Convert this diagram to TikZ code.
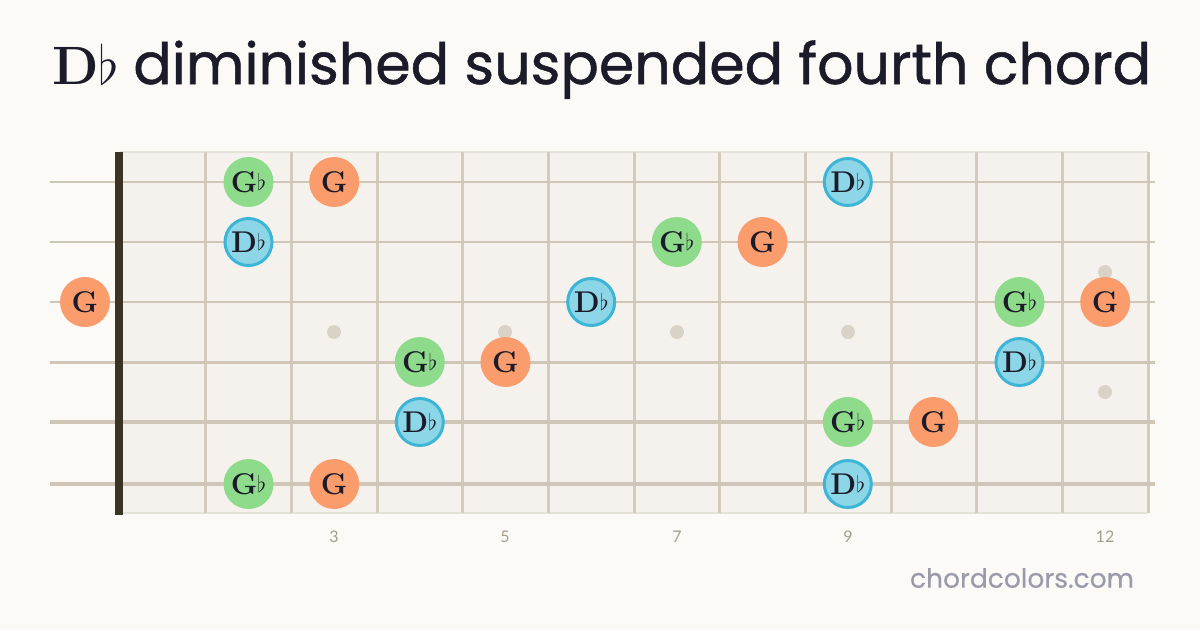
\RequirePackage{fix-cm}
\documentclass[tikz,border=0pt]{standalone}
\usepackage{fontspec}
\setsansfont{Lato}
\newfontfamily\titlefont{Poppins}[FakeBold=0.9]
\newfontfamily\sitefont{Poppins}[FakeBold=0.4]
\definecolor{bg}{HTML}{FBFAF7}
\definecolor{board}{HTML}{F5F2EE}
\definecolor{fretc}{HTML}{D3CBBE}
\definecolor{stringc}{HTML}{CFC6B8}
\definecolor{nutc}{HTML}{3A3424}
\definecolor{dotc}{HTML}{D9D3C7}
\definecolor{numc}{HTML}{A59D8E}
\definecolor{ink}{HTML}{1C1B2A}
\definecolor{webc}{HTML}{9A9AAB}
\definecolor{gcol}{HTML}{FB9C6D}
\definecolor{gbcol}{HTML}{8EDB8B}
\definecolor{dbcol}{HTML}{8DD6E8}
\definecolor{dbedge}{HTML}{3DB6D6}
\tikzset{
  note/.style={circle, minimum size=50pt, inner sep=0pt, text=ink, font=\fontsize{30}{30}\selectfont\bfseries},
  gnote/.style={note, fill=gcol},
  gbnote/.style={note, fill=gbcol},
  dbnote/.style={note, fill=dbcol, draw=dbedge, line width=3pt, minimum size=47pt},
  fretline/.style={draw=fretc, line width=3pt},
  inlay/.style={circle, fill=dotc, minimum size=14pt, inner sep=0pt},
  fretnum/.style={text=numc, font=\sffamily\fontsize{16}{16}\selectfont},
}
\newcommand{\fl}{{\fontsize{23}{23}\selectfont\raisebox{2pt}{$\flat$}}}
\begin{document}
\begin{tikzpicture}[x=1pt,y=-1pt]
\useasboundingbox (0,0) rectangle (1200,630);
\fill[bg] (0,0) rectangle (1200,630);
% title
\node[anchor=base west, inner sep=0pt, text=ink] (title) at (52,84)
  {{\fontsize{54}{54}\selectfont\bfseries D\raisebox{0pt}{$\flat$}}\hspace{14pt}{\titlefont\fontsize{57}{57}\selectfont diminished suspended fourth chord}};
% board
\fill[board] (120,152) rectangle (1148,513);
\draw[draw=fretc!60, line width=2pt] (120,152) -- (1148,152);
\draw[draw=fretc!60, line width=2pt] (120,513) -- (1148,513);
\foreach \i in {1,...,12} {
  \draw[fretline] ({120+85.667*\i},152) -- ({120+85.667*\i},513);
}
% inlays
\node[inlay] (i3) at (334,332) {};
\node[inlay] (i5) at (505,332) {};
\node[inlay] (i7) at (677,332) {};
\node[inlay] (i9) at (848,332) {};
\node[inlay] (i12a) at (1105,272) {};
\node[inlay] (i12b) at (1105,392) {};
% strings
\foreach \y/\w [count=\k] in {182/1.5,242/2,302/2.5,362/3,422/3.5,484/4} {
  \draw[stringc, line width=\w pt] (50,\y) -- (1155,\y);
}
% nut
\fill[nutc] (115,152) rectangle (123,515);
% fret numbers
\node[fretnum] (n3) at (334,537) {3};
\node[fretnum] (n5) at (505,537) {5};
\node[fretnum] (n7) at (677,537) {7};
\node[fretnum] (n9) at (848,537) {9};
\node[fretnum] (n12) at (1105,537) {12};
% notes string 1
\node[gbnote] (s1a) at (248.5,182) {G\fl};
\node[gnote] (s1b) at (334.2,182) {G};
\node[dbnote] (s1c) at (847.8,182) {D\fl};
% string 2
\node[dbnote] (s2a) at (248.5,242) {D\fl};
\node[gbnote] (s2b) at (676.8,242) {G\fl};
\node[gnote] (s2c) at (762.5,242) {G};
% string 3
\node[gnote] (s3a) at (85,302) {G};
\node[dbnote] (s3b) at (591.2,302) {D\fl};
\node[gbnote] (s3c) at (1019.5,302) {G\fl};
\node[gnote] (s3d) at (1105.2,302) {G};
% string 4
\node[gbnote] (s4a) at (419.8,362) {G\fl};
\node[gnote] (s4b) at (505.5,362) {G};
\node[dbnote] (s4c) at (1019.5,362) {D\fl};
% string 5
\node[dbnote] (s5a) at (419.8,422) {D\fl};
\node[gbnote] (s5b) at (847.8,422) {G\fl};
\node[gnote] (s5c) at (933.5,422) {G};
% string 6
\node[gbnote] (s6a) at (248.5,484) {G\fl};
\node[gnote] (s6b) at (334.2,484) {G};
\node[dbnote] (s6c) at (847.8,484) {D\fl};
% site
\node[text=webc, font=\sitefont\fontsize{26.5}{26.5}\selectfont] (site) at (1022,578) {chordcolors.com};
\end{tikzpicture}
\end{document}
